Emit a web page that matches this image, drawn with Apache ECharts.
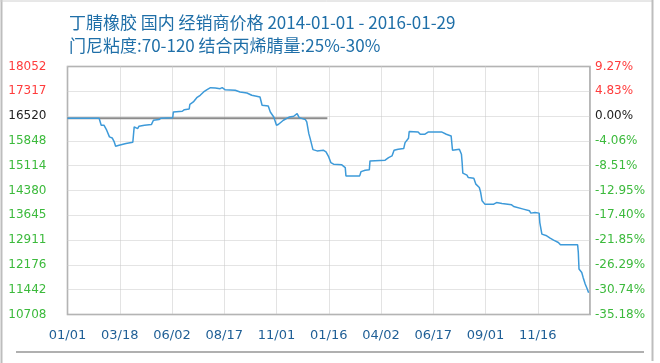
<!DOCTYPE html>
<html>
<head>
<meta charset="utf-8">
<script src="https://cdn.jsdelivr.net/npm/echarts@6/dist/echarts.min.js"></script>
<style>
html,body{margin:0;padding:0;background:#fff;}
#chart{width:660px;height:363px;}
</style>
</head>
<body>
<div id="chart"></div>
<script>
// ---- data ----
var titleLine1 = '丁腈橡胶 国内 经销商价格 2014-01-01 - 2016-01-29';
var titleLine2 = '门尼粘度:70-120 结合丙烯腈量:25%-30%';
var startDate = '2014-01-01';
var basePrice = 16520;
var xTickLabels = ['01/01','03/18','06/02','08/17','11/01','01/16','04/02','06/17','09/01','11/16',''];
var leftTickLabels = ['18052','17317','16520','15848','15114','14380','13645','12911','12176','11442','10708'];
var rightTickLabels = ['9.27%','4.83%','0.00%','-4.06%','-8.51%','-12.95%','-17.40%','-21.85%','-26.29%','-30.74%','-35.18%'];
var priceDates = [
 '2014-01-01','2014-02-16','2014-02-19','2014-02-23','2014-02-27','2014-03-03','2014-03-07','2014-03-10','2014-03-12','2014-03-17',
 '2014-03-27','2014-04-06','2014-04-08','2014-04-13','2014-04-15','2014-04-23','2014-05-03','2014-05-06','2014-05-14','2014-05-17',
 '2014-06-03','2014-06-04','2014-06-17','2014-06-20','2014-06-27','2014-06-28','2014-07-03','2014-07-08','2014-07-13','2014-07-18',
 '2014-07-23','2014-07-28','2014-08-04','2014-08-11','2014-08-14','2014-08-18','2014-09-02','2014-09-09','2014-09-19','2014-09-26',
 '2014-10-08','2014-10-11','2014-10-20','2014-10-23','2014-10-28','2014-11-01','2014-11-04','2014-11-11','2014-11-20','2014-11-26',
 '2014-12-01','2014-12-03','2014-12-04','2014-12-13','2014-12-15','2014-12-18','2014-12-20','2014-12-24','2014-12-30','2015-01-08',
 '2015-01-12','2015-01-16','2015-01-19','2015-01-23','2015-02-04','2015-02-09','2015-02-10','2015-03-02','2015-03-04','2015-03-10',
 '2015-03-16','2015-03-17','2015-04-08','2015-04-13','2015-04-18','2015-04-21','2015-04-27','2015-05-05','2015-05-07','2015-05-12',
 '2015-05-13','2015-05-26','2015-05-29','2015-06-05','2015-06-10','2015-06-29','2015-07-06','2015-07-13','2015-07-15','2015-07-25',
 '2015-07-28','2015-07-29','2015-07-30','2015-08-05','2015-08-07','2015-08-15','2015-08-18','2015-08-23','2015-08-25','2015-08-27',
 '2015-08-31','2015-09-13','2015-09-17','2015-09-25','2015-10-09','2015-10-12','2015-10-26','2015-11-04','2015-11-06','2015-11-12',
 '2015-11-18','2015-11-19','2015-11-22','2015-11-29','2015-12-04','2015-12-09','2015-12-16','2015-12-19','2016-01-13','2016-01-14',
 '2016-01-15','2016-01-19','2016-01-21','2016-01-24','2016-01-27','2016-01-29'
];
var priceValues = [
 16520,16520,16313,16313,16165,15967,15937,15819,15692,15721,
 15769,15810,16263,16212,16283,16313,16331,16461,16479,16520,
 16538,16706,16727,16774,16795,16934,17002,17129,17200,17298,
 17366,17425,17416,17396,17425,17366,17348,17298,17268,17200,
 17150,16905,16884,16706,16558,16313,16343,16461,16558,16579,
 16656,16677,16538,16479,16411,16064,15917,15591,15553,15573,
 15523,15375,15207,15159,15139,15059,14813,14813,14940,14982,
 14991,15257,15278,15355,15405,15573,15603,15621,15798,15928,
 16124,16115,16047,16047,16115,16115,16047,15996,15573,15603,
 15455,15207,14893,14834,14763,14745,14568,14467,14319,14074,
 13976,13976,14023,13994,13955,13905,13828,13778,13710,13728,
 13710,13432,13089,13038,12970,12911,12840,12772,12772,12544,
 12053,11953,11806,11610,11463,11350
];
var baseLineDates = ['2014-01-01','2015-01-14'];
var baseLineValues = [16520,16520];

// ---- helpers ----
function dayIndex(s){
  var p = s.split('-'), q = startDate.split('-');
  return Math.round((Date.UTC(+p[0],+p[1]-1,+p[2]) - Date.UTC(+q[0],+q[1]-1,+q[2]))/86400000);
}
var tickStep = 76, tickCount = 10;
var priceData = priceDates.map(function(d,i){return [dayIndex(d), priceValues[i]];});
var baseData = baseLineDates.map(function(d,i){return [dayIndex(d), baseLineValues[i]];});
var yMax = +leftTickLabels[0], yMin = +leftTickLabels[leftTickLabels.length-1];
function labelColor(i){
  var v = +leftTickLabels[i];
  if (v > basePrice) return '#ff3c3c';
  if (v === basePrice) return '#222222';
  return '#3cba3c';
}

var chart = echarts.init(document.getElementById('chart'));
chart.setOption({
  animation:false,
  backgroundColor:'#fff',
  title:{
    text: titleLine1 + '\n' + titleLine2,
    left: 64, top: 6,
    textStyle:{fontFamily:'Noto Sans CJK SC', fontSize:17, fontWeight:'normal', color:'#1f6fa8', lineHeight:23}
  },
  graphic:[
    {type:'line', shape:{x1:1.5,y1:0,x2:1.5,y2:363}, style:{stroke:'#bdbdbd', lineWidth:2}},
    {type:'line', shape:{x1:0,y1:1,x2:653,y2:1}, style:{stroke:'#d0d0d0', lineWidth:1}},
    {type:'line', shape:{x1:652.5,y1:0,x2:652.5,y2:361}, style:{stroke:'#bdbdbd', lineWidth:2}},
    {type:'line', shape:{x1:16,y1:352,x2:644,y2:352}, style:{stroke:'#b0b0b0', lineWidth:2}}
  ],
  grid:{left:67.5, right:70, top:66.5, bottom:48.5, show:true, borderColor:'#a0a0a0', borderWidth:1.5, containLabel:false},
  xAxis:{
    type:'value', min:0, max:tickStep*tickCount, interval:tickStep,
    axisLine:{show:false}, axisTick:{show:false},
    splitLine:{show:true, lineStyle:{color:'#c8c8c8', type:'dotted', width:1}},
    axisLabel:{
      margin:15, fontFamily:'DejaVu Sans', fontSize:13, color:'#1f5f96',
      formatter:function(v){return xTickLabels[Math.round(v/tickStep)] || '';}
    }
  },
  yAxis:[
    {type:'value', min:yMin, max:yMax, show:false},
    {type:'value', position:'left', min:0, max:10, interval:1,
     axisLine:{show:false}, axisTick:{show:false},
     splitLine:{show:true, lineStyle:{color:'#c8c8c8', type:'dotted', width:1}},
     axisLabel:{margin:21, fontFamily:'DejaVu Sans', fontSize:12,
       formatter:function(v){return leftTickLabels[10-Math.round(v)];},
       color:function(v){return labelColor(10-Math.round(v));}}
    },
    {type:'value', position:'right', min:0, max:10, interval:1,
     axisLine:{show:false}, axisTick:{show:false}, splitLine:{show:false},
     axisLabel:{margin:5, fontFamily:'DejaVu Sans', fontSize:12,
       formatter:function(v){return rightTickLabels[10-Math.round(v)];},
       color:function(v){return labelColor(10-Math.round(v));}}
    }
  ],
  series:[
    {type:'line', yAxisIndex:0, data:baseData, symbol:'none', silent:true,
     lineStyle:{color:'#8c8c8c', width:2}, z:2},
    {type:'line', yAxisIndex:0, data:priceData, symbol:'none',
     lineStyle:{color:'#3d9ad9', width:1.5}, z:3}
  ]
});
</script>
</body>
</html>
